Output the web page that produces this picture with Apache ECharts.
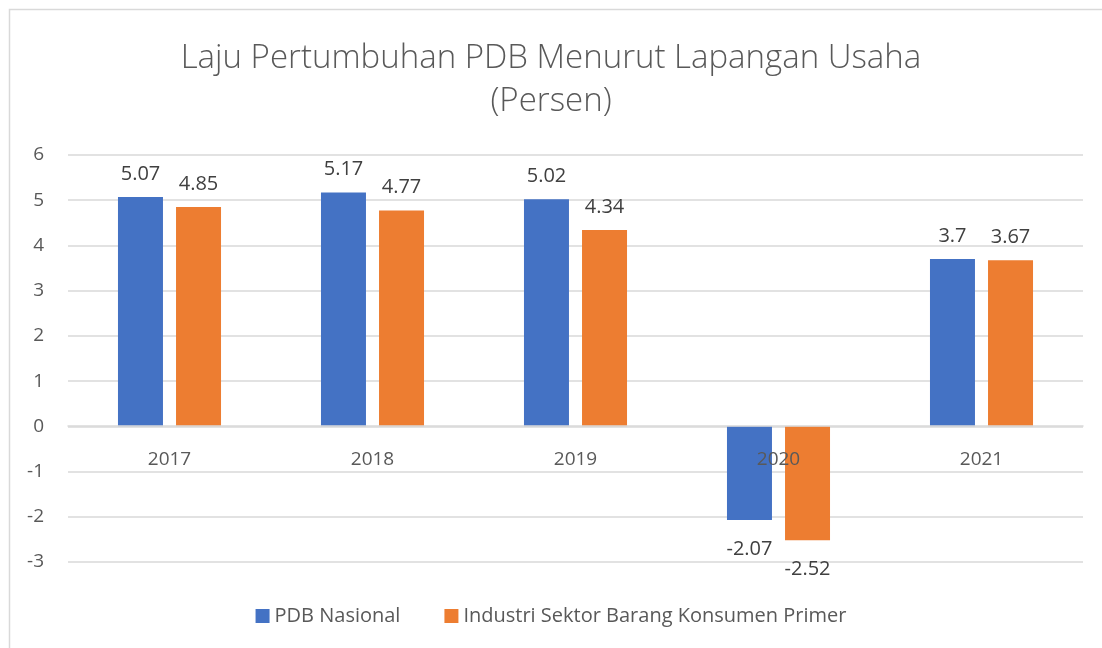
<!DOCTYPE html>
<html>
<head>
<meta charset="utf-8">
<script src="https://cdn.jsdelivr.net/npm/echarts@6/dist/echarts.min.js"></script>
<style>
  html, body { margin: 0; padding: 0; background: #fff; }
  #chart { width: 1102px; height: 648px; }
</style>
</head>
<body>
<div id="chart"></div>
<script>
// data
const years = ['2017', '2018', '2019', '2020', '2021'];
const pdbNasional = [5.07, 5.17, 5.02, -2.07, 3.7];
const industriPrimer = [4.85, 4.77, 4.34, -2.52, 3.67];
const yTicks = { min: -3, max: 6, interval: 1 };

const FONT = '"Open Sans", "Liberation Sans", sans-serif';

const chart = echarts.init(document.getElementById('chart'));

// label di atas batang, atau di bawah kalau nilainya negatif
const withLabels = (values) => values.map(v => ({
  value: v,
  label: v < 0 ? { position: 'bottom', distance: 19 } : { position: 'top', distance: 13 }
}));

const labelStyle = {
  show: true,
  fontFamily: FONT,
  fontSize: 20,
  color: '#404040'
};

chart.setOption({
  animation: false,
  textStyle: { fontFamily: FONT },
  graphic: [{
    type: 'polyline',
    shape: { points: [[9.5, 648], [9.5, 9.5], [1102, 9.5]] },
    style: { stroke: '#d9d9d9', lineWidth: 1.5, fill: null },
    silent: true
  }],
  title: {
    text: 'Laju Pertumbuhan PDB Menurut Lapangan Usaha\n(Persen)',
    left: 'center',
    top: 32,
    textStyle: {
      fontFamily: FONT,
      fontSize: 33,
      fontWeight: 300,
      color: '#595959',
      lineHeight: 43
    }
  },
  legend: {
    bottom: 17,
    left: 'center',
    icon: 'rect',
    itemWidth: 14,
    itemHeight: 14,
    itemGap: 44,
    textStyle: { fontFamily: FONT, fontSize: 20, color: '#595959' },
    data: ['PDB Nasional', 'Industri Sektor Barang Konsumen Primer']
  },
  grid: { left: 68, right: 19, top: 155, bottom: 86, containLabel: false },
  xAxis: {
    type: 'category',
    data: years,
    z: 5,
    offset: -136,
    axisLine: { onZero: false, lineStyle: { color: '#d9d9d9', width: 1.5 } },
    axisTick: { show: false },
    axisLabel: { margin: 24, fontFamily: FONT, fontSize: 19, color: '#595959' }
  },
  yAxis: {
    type: 'value',
    min: yTicks.min,
    max: yTicks.max,
    interval: yTicks.interval,
    axisLine: { show: false },
    axisTick: { show: false },
    axisLabel: { margin: 24, fontFamily: FONT, fontSize: 19, color: '#595959' },
    splitLine: { lineStyle: { color: '#d9d9d9', width: 1.5 } }
  },
  series: [
    {
      name: 'PDB Nasional',
      type: 'bar',
      data: withLabels(pdbNasional),
      barWidth: 45,
      barGap: '29%',
      itemStyle: { color: '#4472C4' },
      label: labelStyle
    },
    {
      name: 'Industri Sektor Barang Konsumen Primer',
      type: 'bar',
      data: withLabels(industriPrimer),
      barWidth: 45,
      barGap: '29%',
      itemStyle: { color: '#ED7D31' },
      label: labelStyle
    }
  ]
});
</script>
</body>
</html>
